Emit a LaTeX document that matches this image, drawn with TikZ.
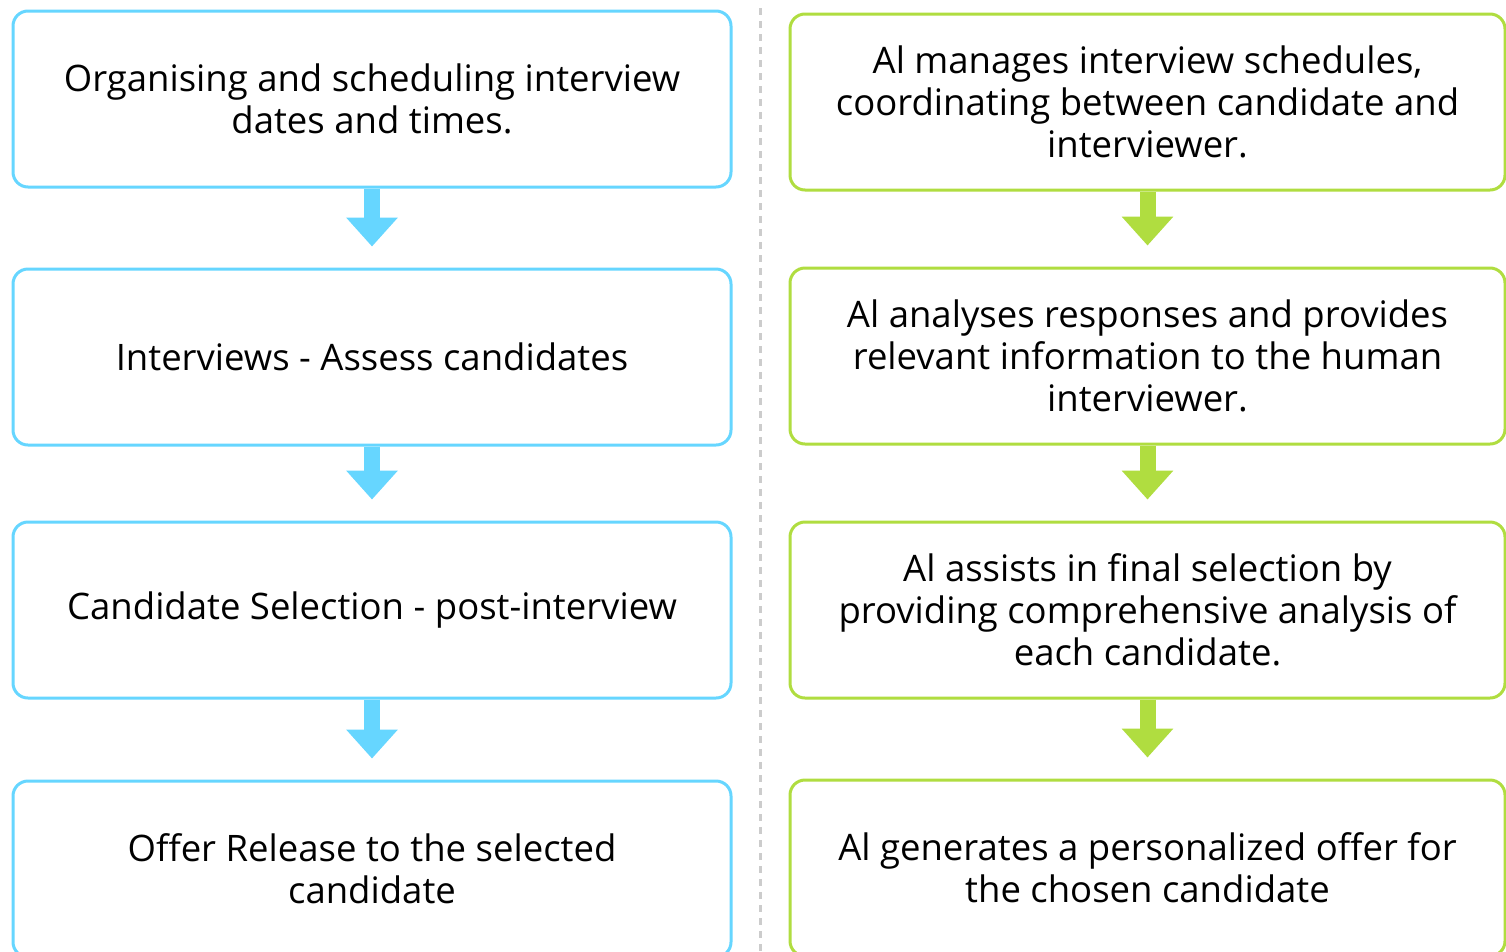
\documentclass[tikz,border=0pt]{standalone}
\usepackage{fontspec}
\setmainfont{Open Sans}
\usetikzlibrary{arrows.meta}
\definecolor{bluec}{RGB}{102,214,255}
\definecolor{greenc}{RGB}{176,221,64}
\definecolor{divgray}{RGB}{204,204,204}
\begin{document}
\begin{tikzpicture}[x=1pt,y=-1pt,
  box/.style={draw, line width=3pt, rounded corners=15pt, minimum height=176pt, align=center,
    inner sep=0pt, font=\fontsize{36.5}{42}\selectfont, text=black},
  lbox/.style={box, draw=bluec, minimum width=718pt},
  rbox/.style={box, draw=greenc, minimum width=715pt},
  flow/.style={line width=16pt, line cap=butt, -{Triangle[width=50pt,length=29pt]}, shorten >=21pt}
]
\useasboundingbox (0,0) rectangle (1506,951);
\fill[white] (0,0) rectangle (1506,951);

\node[lbox] (l1) at (372,99) {Organising and scheduling interview\\dates and times.};
\node[lbox] (l2) at (372,357) {Interviews - Assess candidates};
\node[lbox] (l3) at (372,610) {Candidate Selection - post-interview};
\node[lbox] (l4) at (372,869) {Offer Release to the selected\\candidate};

\node[rbox] (r1) at (1147.5,102) {Al manages interview schedules,\\coordinating between candidate and\\interviewer.};
\node[rbox] (r2) at (1147.5,356) {Al analyses responses and provides\\relevant information to the human\\interviewer.};
\node[rbox] (r3) at (1147.5,610) {Al assists in final selection by\\providing comprehensive analysis of\\each candidate.};
\node[rbox] (r4) at (1147.5,868) {Al generates a personalized offer for\\the chosen candidate};

\draw[flow, bluec] (l1.south) -- (l2.north);
\draw[flow, bluec] (l2.south) -- (l3.north);
\draw[flow, bluec] (l3.south) -- (l4.north);
\draw[flow, greenc] (r1.south) -- (r2.north);
\draw[flow, greenc] (r2.south) -- (r3.north);
\draw[flow, greenc] (r3.south) -- (r4.north);

\coordinate (dtop) at (760,8);
\coordinate (dbot) at (760,951);
\draw[divgray, line width=3pt, dash pattern=on 7pt off 6pt] (dtop) -- (dbot);
\end{tikzpicture}
\end{document}
